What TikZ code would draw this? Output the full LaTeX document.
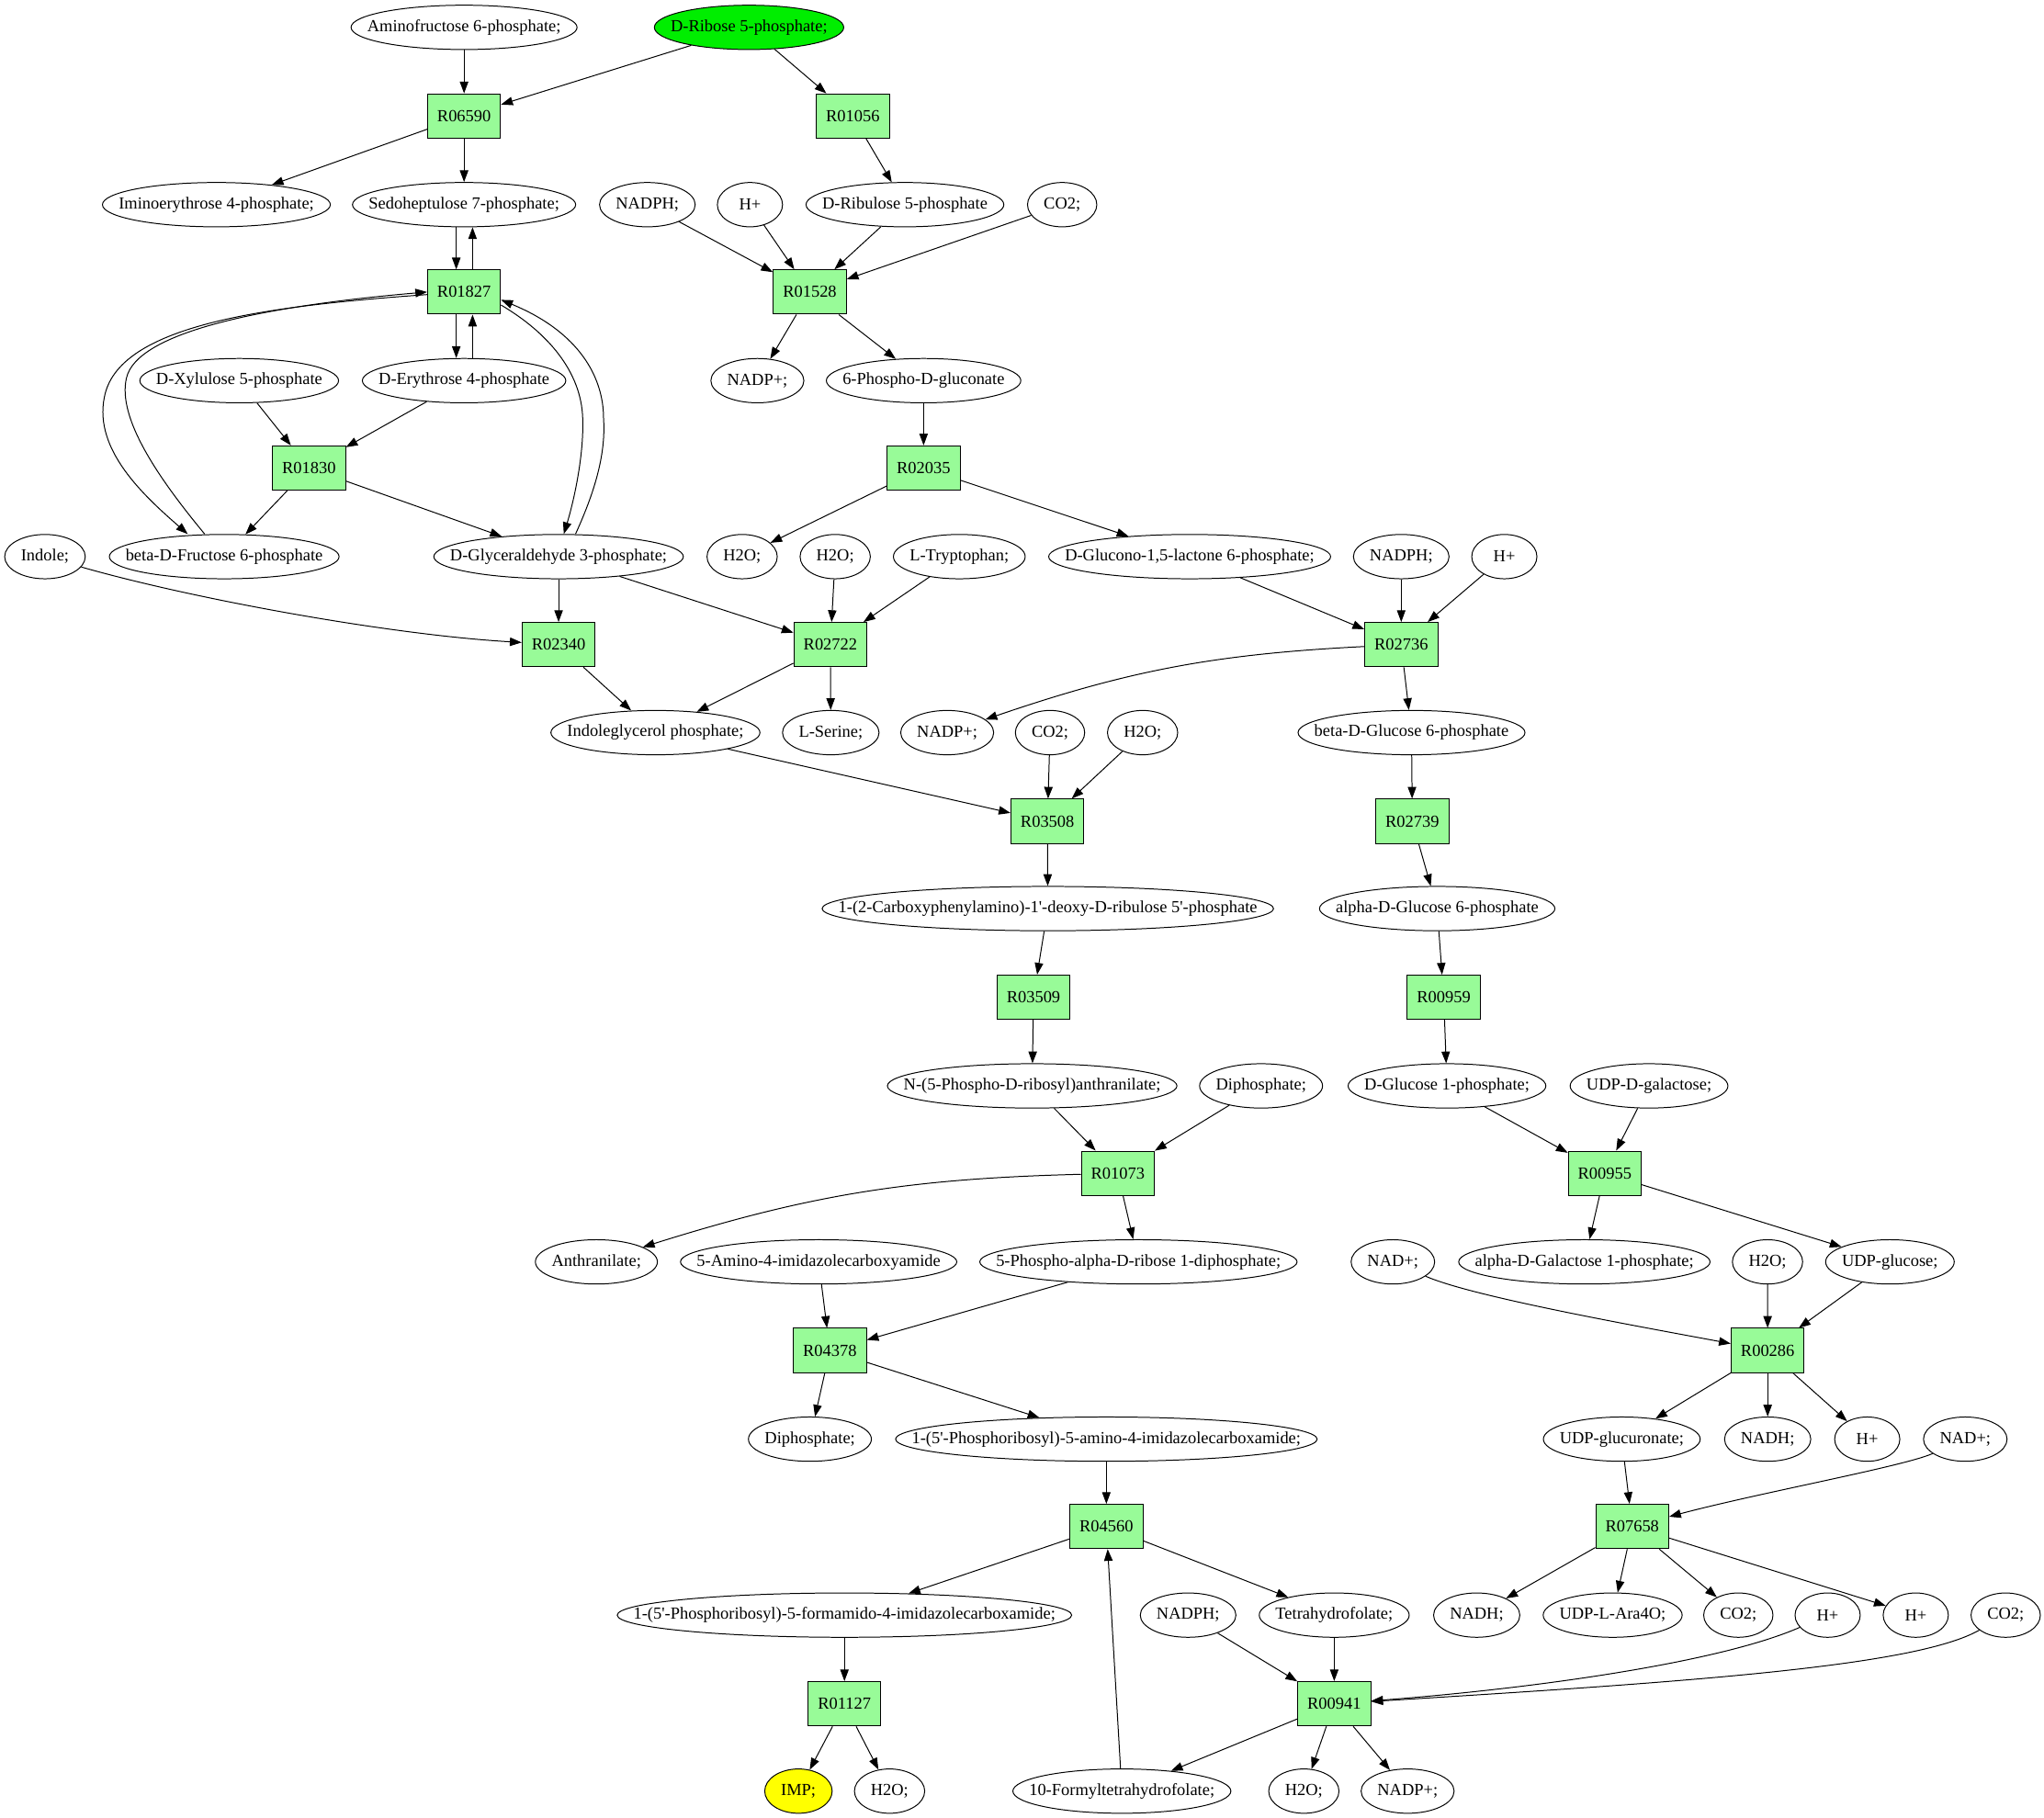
\documentclass[tikz,border=0pt]{standalone}
\usepackage{fontspec}
\setmainfont{Liberation Serif}
\usetikzlibrary{arrows.meta,shapes.geometric}
\definecolor{rxgreen}{HTML}{98FB98}
\definecolor{srcgreen}{HTML}{00EE00}
\definecolor{impyellow}{HTML}{FFFF00}
\newcommand\lblfont{\normalfont\fontsize{13pt}{15pt}\selectfont}
\font\apfont="Liberation Serif" at 13pt
\newcommand\ap{{\apfont'}}
\newlength\metlen
\newcommand\metbox[1]{%
 \settowidth\metlen{#1}\addtolength\metlen{25pt}%
 \setlength\metlen{0.7071\metlen}%
 \makebox[\metlen]{#1}}
\newcommand\metnode[4][]{\node[met,#1] (#2) at (#3) {\metbox{#4}};}
\newcommand\rxnode[2]{\node[rxn] (#1) at (#2) {#1};}
\newcommand\edg[2]{\draw[arr] (#1) -- (#2);}
\AtBeginDocument{\lblfont}
\begin{document}
\begin{tikzpicture}[x=1pt,y=-1pt,
 every node/.style={font=\lblfont},
 met/.style={ellipse,draw,fill=white,line width=0.7pt,inner sep=0pt,minimum height=34pt,minimum width=50pt},
 rxn/.style={rectangle,draw,fill=rxgreen,line width=0.7pt,minimum height=34pt,minimum width=56pt,inner xsep=6pt},
 arr/.style={-{Triangle[length=9pt,width=6.5pt]},line width=0.7pt}]
\fill[white] (0,0) rectangle (1568,1394.6);
% metabolites
\metnode{amf}{356,21}{Aminofructose 6-phosphate;}
\metnode[fill=srcgreen]{rib5}{574.6,21}{D-Ribose 5-phosphate;}
\metnode{imi}{166,157}{Iminoerythrose 4-phosphate;}
\metnode{sed}{356,157}{Sedoheptulose 7-phosphate;}
\metnode{nadphA}{496.6,157}{NADPH;}
\metnode{hpA}{575.3,157}{H+}
\metnode{ribu}{694.2,157}{D-Ribulose 5-phosphate}
\metnode{coA}{814.8,157}{CO2;}
\metnode{xyl}{183.5,292}{D-Xylulose 5-phosphate}
\metnode{ery}{356,292}{D-Erythrose 4-phosphate}
\metnode{nadppA}{581,292}{NADP+;}
\metnode{pgl}{708.5,292}{6-Phospho-D-gluconate}
\metnode{indole}{34.5,427}{Indole;}
\metnode{bfru}{172,427}{beta-D-Fructose 6-phosphate}
\metnode{gap}{428.5,427}{D-Glyceraldehyde 3-phosphate;}
\metnode{waterA}{569.3,427}{H2O;}
\metnode{waterB}{640.7,427}{H2O;}
\metnode{trp}{735.9,427}{L-Tryptophan;}
\metnode{glcl}{912.6,427}{D-Glucono-1,5-lactone 6-phosphate;}
\metnode{nadphB}{1074.9,427}{NADPH;}
\metnode{hpB}{1154,427}{H+}
\metnode{igp}{502.8,562}{Indoleglycerol phosphate;}
\metnode{ser}{637.3,562}{L-Serine;}
\metnode{nadppB}{726.6,562}{NADP+;}
\metnode{coB}{805.5,562}{CO2;}
\metnode{waterC}{876.5,562}{H2O;}
\metnode{bglc}{1082.8,562}{beta-D-Glucose 6-phosphate}
\metnode{cdrp}{803.8,697}{1-(2-Carboxyphenylamino)-1\ap-deoxy-D-ribulose 5\ap-phosphate}
\metnode{aglc}{1102.5,697}{alpha-D-Glucose 6-phosphate}
\metnode{pra}{791.8,833}{N-(5-Phospho-D-ribosyl)anthranilate;}
\metnode{ppiA}{967.4,833}{Diphosphate;}
\metnode{gop}{1110,833}{D-Glucose 1-phosphate;}
\metnode{udpgal}{1265,833}{UDP-D-galactose;}
\metnode{anth}{457.5,968}{Anthranilate;}
\metnode{aica}{628,968}{5-Amino-4-imidazolecarboxyamide}
\metnode{prpp}{873.3,968}{5-Phospho-alpha-D-ribose 1-diphosphate;}
\metnode{nadA}{1068.5,968}{NAD+;}
\metnode{galp}{1215.4,968}{alpha-D-Galactose 1-phosphate;}
\metnode{waterD}{1355.9,968}{H2O;}
\metnode{udpglc}{1449.8,968}{UDP-glucose;}
\metnode{ppiB}{621.3,1104}{Diphosphate;}
\metnode{aicar}{848.7,1104}{1-(5\ap-Phosphoribosyl)-5-amino-4-imidazolecarboxamide;}
\metnode{udpgla}{1244.1,1104}{UDP-glucuronate;}
\metnode{nadhA}{1356,1104}{NADH;}
\metnode{hpC}{1432.4,1104}{H+}
\metnode{nadB}{1507.6,1104}{NAD+;}
\metnode{faicar}{647.8,1239}{1-(5\ap-Phosphoribosyl)-5-formamido-4-imidazolecarboxamide;}
\metnode{nadphC}{911.4,1239}{NADPH;}
\metnode{thf}{1023.5,1239}{Tetrahydrofolate;}
\metnode{nadhB}{1132.8,1239}{NADH;}
\metnode{udpara}{1237.1,1239}{UDP-L-Ara4O;}
\metnode{coC}{1333.5,1239}{CO2;}
\metnode{hpD}{1402,1239}{H+}
\metnode{hpE}{1469.6,1239}{H+}
\metnode{coD}{1538.6,1239}{CO2;}
\metnode[fill=impyellow]{imp}{612.5,1374}{IMP;}
\metnode{waterE}{682.4,1374}{H2O;}
\metnode{fthf}{860.6,1374}{10-Formyltetrahydrofolate;}
\metnode{waterF}{1000.2,1374}{H2O;}
\metnode{nadppC}{1079.8,1374}{NADP+;}
% reactions
\rxnode{R06590}{356,89}
\rxnode{R01056}{654.2,89}
\rxnode{R01827}{356,224}
\rxnode{R01528}{621.2,224}
\rxnode{R01830}{237,359}
\rxnode{R02035}{708.5,359}
\rxnode{R02340}{428.5,494.5}
\rxnode{R02722}{637,494.5}
\rxnode{R02736}{1074.9,494.5}
\rxnode{R03508}{803.5,630}
\rxnode{R02739}{1083.4,630}
\rxnode{R03509}{792.8,765}
\rxnode{R00959}{1107.5,765}
\rxnode{R01073}{857.5,900}
\rxnode{R00955}{1231,900}
\rxnode{R04378}{636.6,1036}
\rxnode{R00286}{1356,1036}
\rxnode{R04560}{848.7,1171}
\rxnode{R07658}{1252.1,1171}
\rxnode{R01127}{647.8,1307}
\rxnode{R00941}{1023.5,1307}
% edges
\edg{amf}{R06590}
\edg{rib5}{R06590}
\edg{rib5}{R01056}
\edg{R06590}{imi}
\edg{R06590}{sed}
\edg{R01056}{ribu}
\draw[arr] ([xshift=-6pt]sed.south) -- ([xshift=-6pt]R01827.north);
\draw[arr] ([xshift=6.5pt]R01827.north) -- ([xshift=6.5pt]sed.south);
\draw[arr] ([xshift=-6pt]R01827.south) -- ([xshift=-6pt]ery.north);
\draw[arr] ([xshift=6.5pt]ery.north) -- ([xshift=6.5pt]R01827.south);
\edg{nadphA}{R01528}
\edg{hpA}{R01528}
\edg{ribu}{R01528}
\edg{coA}{R01528}
\edg{R01528}{nadppA}
\edg{R01528}{pgl}
% curves R01827 <-> fructose
\draw[arr] ([yshift=-2pt]R01827.west) .. controls (200,235) and (90,250) .. (80,305)
   .. controls (72,345) and (110,380) .. ([xshift=-28pt]bfru.north);
\draw[arr] ([xshift=-15pt]bfru.north) .. controls (120,365) and (90,320) .. (97,290)
   .. controls (105,255) and (200,235) .. (R01827.west);
% curves R01827 <-> glyceraldehyde
\draw[arr] ([yshift=-10pt]R01827.east) .. controls (420,255) and (446,285) .. (447,321)
   .. controls (448,350) and (440,385) .. ([xshift=4pt]gap.north);
\draw[arr] ([xshift=13pt]gap.north) .. controls (455,380) and (465,350) .. (463,321)
   .. controls (463,290) and (445,255) .. ([yshift=-6pt]R01827.east);
\edg{xyl}{R01830}
\edg{ery}{R01830}
\edg{R01830}{bfru}
\edg{R01830}{gap}
\edg{pgl}{R02035}
\edg{R02035}{waterA}
\edg{R02035}{glcl}
\draw[arr] (indole) .. controls (150,460) and (300,487) .. (R02340);
\edg{gap}{R02340}
\edg{gap}{R02722}
\edg{waterB}{R02722}
\edg{trp}{R02722}
\edg{glcl}{R02736}
\edg{nadphB}{R02736}
\edg{hpB}{R02736}
\edg{R02340}{igp}
\edg{R02722}{igp}
\edg{R02722}{ser}
\draw[arr] (R02736) to[bend right=8] (nadppB);
\edg{R02736}{bglc}
\edg{igp}{R03508}
\edg{coB}{R03508}
\edg{waterC}{R03508}
\edg{bglc}{R02739}
\edg{R03508}{cdrp}
\edg{R02739}{aglc}
\edg{cdrp}{R03509}
\edg{aglc}{R00959}
\edg{R03509}{pra}
\edg{R00959}{gop}
\edg{pra}{R01073}
\edg{ppiA}{R01073}
\edg{gop}{R00955}
\edg{udpgal}{R00955}
\draw[arr] (R01073) to[bend right=8] (anth);
\edg{R01073}{prpp}
\edg{R00955}{galp}
\edg{R00955}{udpglc}
\edg{aica}{R04378}
\edg{prpp}{R04378}
\draw[arr] (nadA) .. controls (1130,995) and (1260,1018) .. (R00286);
\edg{waterD}{R00286}
\edg{udpglc}{R00286}
\edg{R04378}{ppiB}
\edg{R04378}{aicar}
\edg{R00286}{udpgla}
\edg{R00286}{nadhA}
\edg{R00286}{hpC}
\edg{aicar}{R04560}
\edg{udpgla}{R07658}
\draw[arr] (nadB) .. controls (1460,1125) and (1350,1145) .. (R07658);
\edg{R04560}{faicar}
\edg{R04560}{thf}
\edg{fthf}{R04560}
\edg{R07658}{nadhB}
\edg{R07658}{udpara}
\edg{R07658}{coC}
\edg{R07658}{hpE}
\edg{faicar}{R01127}
\edg{nadphC}{R00941}
\edg{thf}{R00941}
\draw[arr] (hpD) .. controls (1320,1275) and (1180,1295) .. (R00941);
\draw[arr] (coD) .. controls (1470,1278) and (1300,1290) .. (R00941);
\edg{R01127}{imp}
\edg{R01127}{waterE}
\edg{R00941}{fthf}
\edg{R00941}{waterF}
\edg{R00941}{nadppC}
\end{tikzpicture}
\end{document}
